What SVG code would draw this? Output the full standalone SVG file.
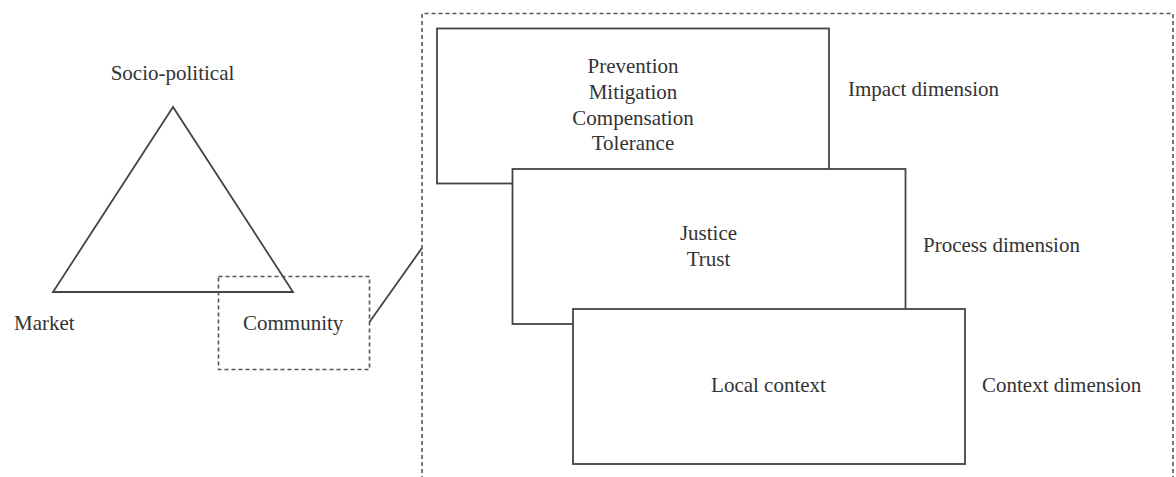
<svg xmlns="http://www.w3.org/2000/svg" width="1176" height="477" viewBox="0 0 1176 477">
<style>
text{font-family:"Liberation Serif","Times New Roman",serif;font-size:21px;fill:#333}
.solid{fill:none;stroke:#444;stroke-width:1.8}
.box{fill:#fff;stroke:#444;stroke-width:1.8}
.dash{fill:none;stroke:#555;stroke-width:1.6;stroke-dasharray:4 3}
.c{text-anchor:middle}
</style>
<rect width="1176" height="477" fill="#fff"/>
<g id="triangle">
<polygon class="solid" points="173,107 53,292 293,292"/>
<text class="c" x="172.5" y="80">Socio-political</text>
<text x="14" y="330">Market</text>
</g>
<g id="community">
<rect class="dash" x="218.5" y="276.5" width="151" height="93"/>
<text x="243" y="330">Community</text>
</g>
<g id="connectors">
<line class="solid" x1="369.5" y1="322" x2="422" y2="248"/>
</g>
<g id="zoom-frame">
<path class="dash" d="M422,480 V13.5 H1173 V480"/>
</g>
<g id="impact">
<rect class="box" x="437" y="28.5" width="392" height="155"/>
<text class="c" x="633" y="73">Prevention</text>
<text class="c" x="633" y="99">Mitigation</text>
<text class="c" x="633" y="125">Compensation</text>
<text class="c" x="633" y="150">Tolerance</text>
<text x="848" y="96">Impact dimension</text>
</g>
<g id="process">
<rect class="box" x="512.5" y="169" width="393" height="155"/>
<text class="c" x="708.5" y="239.5">Justice</text>
<text class="c" x="708.5" y="266">Trust</text>
<text x="923" y="252">Process dimension</text>
</g>
<g id="context">
<rect class="box" x="573" y="309" width="392" height="155"/>
<text class="c" x="768.5" y="391.5">Local context</text>
<text x="982" y="391.5">Context dimension</text>
</g>
</svg>
